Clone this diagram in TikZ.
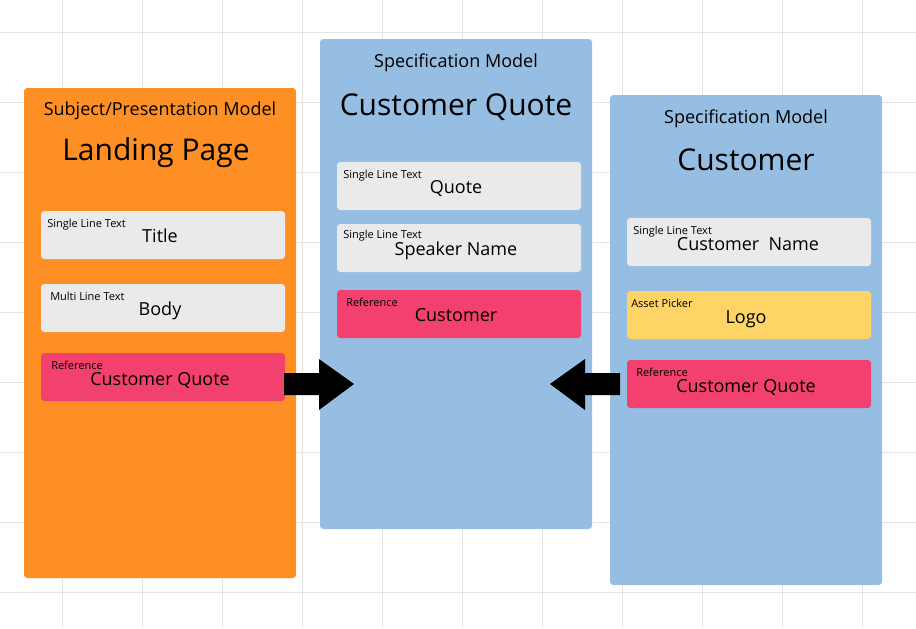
\documentclass[tikz,border=0pt]{standalone}
\usepackage{fontspec}
\setmainfont{Open Sans}
\definecolor{panelorange}{HTML}{FE8F25}
\definecolor{panelblue}{HTML}{96BDE2}
\definecolor{cardgray}{HTML}{EAEAEA}
\definecolor{cardpink}{HTML}{F2416F}
\definecolor{cardyellow}{HTML}{FED466}
\definecolor{gridgray}{HTML}{E4E4E4}
\begin{document}
\begin{tikzpicture}[x=0.75pt, y=-0.75pt,
  panel/.style={rounded corners=2.5pt, minimum width=204pt, minimum height=367.5pt, inner sep=0pt},
  card/.style={rounded corners=2.5pt, minimum width=183pt, minimum height=36pt, inner sep=0pt},
  kind/.style={anchor=west, inner sep=0pt, text height=5.9pt, text depth=0pt, font=\fontsize{8.25}{10}\selectfont},
  field/.style={inner sep=0pt, text height=9.6pt, text depth=0pt, font=\fontsize{13.5}{16}\selectfont},
  modeltype/.style={inner sep=0pt, text height=9.6pt, text depth=0pt, font=\fontsize{13.5}{16}\selectfont},
  modelname/.style={inner sep=0pt, text height=16pt, text depth=0pt, font=\fontsize{22.5}{26}\selectfont}]
  \useasboundingbox (0,0) rectangle (916,628);
  % background grid
  \foreach \gx in {62,142,...,862} \draw[gridgray, line width=0.75pt] (\gx,0) -- (\gx,628);
  \foreach \gy in {32,102,...,592} \draw[gridgray, line width=0.75pt] (0,\gy) -- (916,\gy);

  % landing page
  \node[panel, fill=panelorange] (landing) at (160,333) {};
  \node[modeltype] (landingtype) at (160,109) {Subject/Presentation Model};
  \node[modelname] (landingname) at (156,150) {Landing Page};
  \node[card, fill=cardgray] (title) at (163,235) {};
  \node[kind] at (47,224) {Single Line Text};
  \node[field] at (160,236) {Title};
  \node[card, fill=cardgray] (body) at (163,308) {};
  \node[kind] at (50,297) {Multi Line Text};
  \node[field] at (160,309) {Body};
  \node[card, fill=cardpink] (landingref) at (163,377) {};
  \node[kind] at (51,366) {Reference};
  \node[field] at (160,379) {Customer Quote};

  % customer quote
  \node[panel, fill=panelblue] (quote) at (456,284) {};
  \node[modeltype] (quotetype) at (456,61) {Specification Model};
  \node[modelname] (quotename) at (456,105) {Customer Quote};
  \node[card, fill=cardgray] (quotetext) at (459,186) {};
  \node[kind] at (343,175) {Single Line Text};
  \node[field] at (456,187) {Quote};
  \node[card, fill=cardgray] (speaker) at (459,248) {};
  \node[kind] at (343,235) {Single Line Text};
  \node[field] at (456,249) {Speaker Name};
  \node[card, fill=cardpink] (quoteref) at (459,314) {};
  \node[kind] at (346,303) {Reference};
  \node[field] at (456,315) {Customer};

  % customer
  \node[panel, fill=panelblue] (customer) at (746,340) {};
  \node[modeltype] (customertype) at (746,117) {Specification Model};
  \node[modelname] (customername) at (746,160) {Customer};
  \node[card, fill=cardgray] (name) at (749,242) {};
  \node[kind] at (633,231) {Single Line Text};
  \node[field] at (748,244) {Customer\ \ Name};
  \node[card, fill=cardyellow] (logo) at (749,315) {};
  \node[kind] at (631,304) {Asset Picker};
  \node[field] at (746,317) {Logo};
  \node[card, fill=cardpink] (customerref) at (749,384) {};
  \node[kind] at (636,373) {Reference};
  \node[field] at (746,386) {Customer Quote};

  % block arrows
  \fill[black] (284,373) -- (319,373) -- (319,359) -- (354,384) -- (319,410) -- (319,395) -- (284,395) -- cycle;
  \fill[black] (620,373) -- (585,373) -- (585,359) -- (550,384) -- (585,410) -- (585,395) -- (620,395) -- cycle;
\end{tikzpicture}
\end{document}
